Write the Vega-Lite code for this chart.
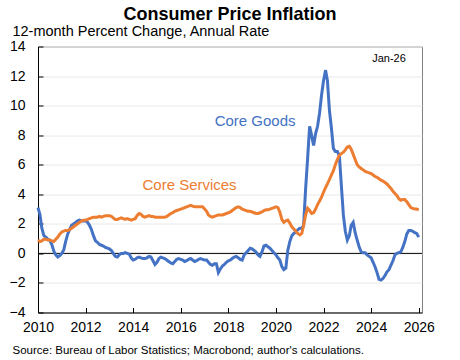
{
  "$schema": "https://vega.github.io/schema/vega-lite/v6.json",
  "width": 384,
  "height": 266,
  "autosize": "none",
  "padding": {"left": 38, "top": 46.5, "right": 38, "bottom": 47.3},
  "background": "white",
  "config": {
    "font": "Liberation Sans",
    "view": {"stroke": "#808080", "strokeWidth": 1}
  },
  "title": {
    "text": "Consumer Price Inflation",
    "fontSize": 18,
    "fontWeight": "bold",
    "color": "#000000",
    "anchor": "middle",
    "frame": "group",
    "offset": 0
  },
  "encoding": {
    "y": {
      "field": "value",
      "type": "quantitative",
      "scale": {"domain": [-4, 14], "nice": false, "zero": false},
      "axis": {
        "title": "12-month Percent Change, Annual Rate",
        "titleAngle": 0,
        "titleAlign": "left",
        "titleAnchor": "end",
        "titleBaseline": "alphabetic",
        "titleX": -26,
        "titleY": -10.5,
        "titleFontSize": 14.5,
        "titleFontWeight": "normal",
        "titleColor": "#000000",
        "values": [-4, -2, 0, 2, 4, 6, 8, 10, 12, 14],
        "labelFontSize": 14,
        "labelColor": "#000000",
        "labelOverlap": false,
        "labelFlush": false,
        "tickSize": -5,
        "labelPadding": 18,
        "tickColor": "#000000",
        "domainColor": "#000000",
        "grid": true,
        "gridColor": "#e8e8e8"
      }
    }
  },
  "layer": [
    {
      "data": {"values": [{"value": 0}]},
      "mark": {"type": "rule", "color": "#000000", "strokeWidth": 1},
      "encoding": {}
    },
    {
      "data": {
        "values": [
          {"date": "2010-01-01", "g": 3.1, "s": 0.9},
          {"date": "2010-02-01", "g": 2.6, "s": 0.8},
          {"date": "2010-03-01", "g": 1.7, "s": 0.85},
          {"date": "2010-04-01", "g": 1.2, "s": 0.95},
          {"date": "2010-05-01", "g": 1.1, "s": 0.95},
          {"date": "2010-06-01", "g": 0.95, "s": 0.9},
          {"date": "2010-07-01", "g": 0.9, "s": 0.9},
          {"date": "2010-08-01", "g": 0.6, "s": 0.85},
          {"date": "2010-09-01", "g": 0.15, "s": 0.8},
          {"date": "2010-10-01", "g": -0.1, "s": 0.95},
          {"date": "2010-11-01", "g": -0.25, "s": 1.1},
          {"date": "2010-12-01", "g": -0.15, "s": 1.3},
          {"date": "2011-01-01", "g": 0.0, "s": 1.45},
          {"date": "2011-02-01", "g": 0.25, "s": 1.5},
          {"date": "2011-03-01", "g": 0.8, "s": 1.55},
          {"date": "2011-04-01", "g": 1.3, "s": 1.55},
          {"date": "2011-05-01", "g": 1.6, "s": 1.6},
          {"date": "2011-06-01", "g": 1.9, "s": 1.7},
          {"date": "2011-07-01", "g": 2.0, "s": 1.8},
          {"date": "2011-08-01", "g": 2.1, "s": 1.9},
          {"date": "2011-09-01", "g": 2.2, "s": 2.0},
          {"date": "2011-10-01", "g": 2.25, "s": 2.1},
          {"date": "2011-11-01", "g": 2.2, "s": 2.2},
          {"date": "2011-12-01", "g": 2.2, "s": 2.25},
          {"date": "2012-01-01", "g": 2.2, "s": 2.25},
          {"date": "2012-02-01", "g": 2.1, "s": 2.3},
          {"date": "2012-03-01", "g": 1.9, "s": 2.35},
          {"date": "2012-04-01", "g": 1.6, "s": 2.4},
          {"date": "2012-05-01", "g": 1.2, "s": 2.45},
          {"date": "2012-06-01", "g": 0.85, "s": 2.45},
          {"date": "2012-07-01", "g": 0.75, "s": 2.45},
          {"date": "2012-08-01", "g": 0.6, "s": 2.5},
          {"date": "2012-09-01", "g": 0.55, "s": 2.45},
          {"date": "2012-10-01", "g": 0.5, "s": 2.5},
          {"date": "2012-11-01", "g": 0.4, "s": 2.55},
          {"date": "2012-12-01", "g": 0.35, "s": 2.55},
          {"date": "2013-01-01", "g": 0.3, "s": 2.55},
          {"date": "2013-02-01", "g": 0.2, "s": 2.5},
          {"date": "2013-03-01", "g": 0.0, "s": 2.4},
          {"date": "2013-04-01", "g": -0.2, "s": 2.3},
          {"date": "2013-05-01", "g": -0.25, "s": 2.3},
          {"date": "2013-06-01", "g": -0.1, "s": 2.35},
          {"date": "2013-07-01", "g": 0.0, "s": 2.4},
          {"date": "2013-08-01", "g": 0.0, "s": 2.35},
          {"date": "2013-09-01", "g": 0.05, "s": 2.3},
          {"date": "2013-10-01", "g": 0.0, "s": 2.35},
          {"date": "2013-11-01", "g": -0.05, "s": 2.3},
          {"date": "2013-12-01", "g": -0.3, "s": 2.25},
          {"date": "2014-01-01", "g": -0.45, "s": 2.3},
          {"date": "2014-02-01", "g": -0.4, "s": 2.35},
          {"date": "2014-03-01", "g": -0.3, "s": 2.55},
          {"date": "2014-04-01", "g": -0.25, "s": 2.7},
          {"date": "2014-05-01", "g": -0.3, "s": 2.65},
          {"date": "2014-06-01", "g": -0.35, "s": 2.5},
          {"date": "2014-07-01", "g": -0.35, "s": 2.45},
          {"date": "2014-08-01", "g": -0.3, "s": 2.5},
          {"date": "2014-09-01", "g": -0.2, "s": 2.55},
          {"date": "2014-10-01", "g": -0.25, "s": 2.5},
          {"date": "2014-11-01", "g": -0.5, "s": 2.5},
          {"date": "2014-12-01", "g": -0.75, "s": 2.45},
          {"date": "2015-01-01", "g": -0.6, "s": 2.45},
          {"date": "2015-02-01", "g": -0.35, "s": 2.45},
          {"date": "2015-03-01", "g": -0.25, "s": 2.45},
          {"date": "2015-04-01", "g": -0.3, "s": 2.45},
          {"date": "2015-05-01", "g": -0.35, "s": 2.45},
          {"date": "2015-06-01", "g": -0.45, "s": 2.5},
          {"date": "2015-07-01", "g": -0.55, "s": 2.6},
          {"date": "2015-08-01", "g": -0.65, "s": 2.7},
          {"date": "2015-09-01", "g": -0.7, "s": 2.75},
          {"date": "2015-10-01", "g": -0.55, "s": 2.85},
          {"date": "2015-11-01", "g": -0.4, "s": 2.9},
          {"date": "2015-12-01", "g": -0.35, "s": 2.95},
          {"date": "2016-01-01", "g": -0.4, "s": 3.0},
          {"date": "2016-02-01", "g": -0.45, "s": 3.05},
          {"date": "2016-03-01", "g": -0.55, "s": 3.1},
          {"date": "2016-04-01", "g": -0.5, "s": 3.15},
          {"date": "2016-05-01", "g": -0.4, "s": 3.2},
          {"date": "2016-06-01", "g": -0.35, "s": 3.25},
          {"date": "2016-07-01", "g": -0.45, "s": 3.2},
          {"date": "2016-08-01", "g": -0.55, "s": 3.15},
          {"date": "2016-09-01", "g": -0.5, "s": 3.15},
          {"date": "2016-10-01", "g": -0.4, "s": 3.15},
          {"date": "2016-11-01", "g": -0.35, "s": 3.15},
          {"date": "2016-12-01", "g": -0.4, "s": 3.15},
          {"date": "2017-01-01", "g": -0.45, "s": 3.0},
          {"date": "2017-02-01", "g": -0.45, "s": 2.85},
          {"date": "2017-03-01", "g": -0.6, "s": 2.6},
          {"date": "2017-04-01", "g": -0.75, "s": 2.5},
          {"date": "2017-05-01", "g": -0.8, "s": 2.45},
          {"date": "2017-06-01", "g": -0.7, "s": 2.5},
          {"date": "2017-07-01", "g": -0.7, "s": 2.55},
          {"date": "2017-08-01", "g": -1.3, "s": 2.6},
          {"date": "2017-09-01", "g": -1.05, "s": 2.6},
          {"date": "2017-10-01", "g": -0.85, "s": 2.6},
          {"date": "2017-11-01", "g": -0.75, "s": 2.65},
          {"date": "2017-12-01", "g": -0.6, "s": 2.7},
          {"date": "2018-01-01", "g": -0.5, "s": 2.75},
          {"date": "2018-02-01", "g": -0.45, "s": 2.8},
          {"date": "2018-03-01", "g": -0.35, "s": 2.9},
          {"date": "2018-04-01", "g": -0.25, "s": 3.0},
          {"date": "2018-05-01", "g": -0.2, "s": 3.1},
          {"date": "2018-06-01", "g": -0.3, "s": 3.15},
          {"date": "2018-07-01", "g": -0.4, "s": 3.1},
          {"date": "2018-08-01", "g": -0.45, "s": 3.0},
          {"date": "2018-09-01", "g": -0.1, "s": 2.95},
          {"date": "2018-10-01", "g": 0.05, "s": 2.9},
          {"date": "2018-11-01", "g": 0.2, "s": 2.85},
          {"date": "2018-12-01", "g": 0.35, "s": 2.85},
          {"date": "2019-01-01", "g": 0.3, "s": 2.8},
          {"date": "2019-02-01", "g": 0.2, "s": 2.75},
          {"date": "2019-03-01", "g": 0.1, "s": 2.7},
          {"date": "2019-04-01", "g": -0.1, "s": 2.7},
          {"date": "2019-05-01", "g": -0.2, "s": 2.75},
          {"date": "2019-06-01", "g": 0.1, "s": 2.8},
          {"date": "2019-07-01", "g": 0.5, "s": 2.9},
          {"date": "2019-08-01", "g": 0.55, "s": 2.95},
          {"date": "2019-09-01", "g": 0.45, "s": 2.95},
          {"date": "2019-10-01", "g": 0.35, "s": 3.0},
          {"date": "2019-11-01", "g": 0.2, "s": 3.05},
          {"date": "2019-12-01", "g": 0.05, "s": 3.1},
          {"date": "2020-01-01", "g": -0.1, "s": 3.15},
          {"date": "2020-02-01", "g": -0.3, "s": 3.1},
          {"date": "2020-03-01", "g": -0.45, "s": 2.8},
          {"date": "2020-04-01", "g": -0.9, "s": 2.3},
          {"date": "2020-05-01", "g": -1.1, "s": 2.1},
          {"date": "2020-06-01", "g": -1.0, "s": 2.2},
          {"date": "2020-07-01", "g": 0.2, "s": 2.25},
          {"date": "2020-08-01", "g": 0.8, "s": 2.05},
          {"date": "2020-09-01", "g": 1.2, "s": 1.8},
          {"date": "2020-10-01", "g": 1.35, "s": 1.65},
          {"date": "2020-11-01", "g": 1.45, "s": 1.5},
          {"date": "2020-12-01", "g": 1.6, "s": 1.35},
          {"date": "2021-01-01", "g": 1.7, "s": 1.25},
          {"date": "2021-02-01", "g": 1.7, "s": 1.35},
          {"date": "2021-03-01", "g": 1.9, "s": 1.9},
          {"date": "2021-04-01", "g": 4.4, "s": 2.6},
          {"date": "2021-05-01", "g": 6.4, "s": 3.05},
          {"date": "2021-06-01", "g": 8.6, "s": 2.9},
          {"date": "2021-07-01", "g": 8.0, "s": 2.7},
          {"date": "2021-08-01", "g": 7.3, "s": 2.75},
          {"date": "2021-09-01", "g": 8.1, "s": 3.0},
          {"date": "2021-10-01", "g": 8.6, "s": 3.3},
          {"date": "2021-11-01", "g": 9.5, "s": 3.55},
          {"date": "2021-12-01", "g": 10.7, "s": 3.8},
          {"date": "2022-01-01", "g": 11.7, "s": 4.15},
          {"date": "2022-02-01", "g": 12.4, "s": 4.45},
          {"date": "2022-03-01", "g": 11.7, "s": 4.7},
          {"date": "2022-04-01", "g": 9.7, "s": 5.0},
          {"date": "2022-05-01", "g": 8.5, "s": 5.3},
          {"date": "2022-06-01", "g": 7.1, "s": 5.6},
          {"date": "2022-07-01", "g": 6.9, "s": 6.0},
          {"date": "2022-08-01", "g": 6.9, "s": 6.35},
          {"date": "2022-09-01", "g": 6.6, "s": 6.65},
          {"date": "2022-10-01", "g": 4.6, "s": 6.75},
          {"date": "2022-11-01", "g": 2.6, "s": 6.85},
          {"date": "2022-12-01", "g": 1.5, "s": 7.0},
          {"date": "2023-01-01", "g": 0.9, "s": 7.2},
          {"date": "2023-02-01", "g": 1.2, "s": 7.25},
          {"date": "2023-03-01", "g": 1.9, "s": 7.05},
          {"date": "2023-04-01", "g": 2.1, "s": 6.7},
          {"date": "2023-05-01", "g": 1.4, "s": 6.35},
          {"date": "2023-06-01", "g": 0.9, "s": 6.0},
          {"date": "2023-07-01", "g": 0.45, "s": 5.85},
          {"date": "2023-08-01", "g": 0.1, "s": 5.75},
          {"date": "2023-09-01", "g": 0.05, "s": 5.65},
          {"date": "2023-10-01", "g": 0.05, "s": 5.55},
          {"date": "2023-11-01", "g": -0.1, "s": 5.5},
          {"date": "2023-12-01", "g": -0.2, "s": 5.45},
          {"date": "2024-01-01", "g": -0.3, "s": 5.4},
          {"date": "2024-02-01", "g": -0.6, "s": 5.3},
          {"date": "2024-03-01", "g": -0.9, "s": 5.2},
          {"date": "2024-04-01", "g": -1.3, "s": 5.15},
          {"date": "2024-05-01", "g": -1.75, "s": 5.05},
          {"date": "2024-06-01", "g": -1.8, "s": 4.95},
          {"date": "2024-07-01", "g": -1.7, "s": 4.9},
          {"date": "2024-08-01", "g": -1.5, "s": 4.8},
          {"date": "2024-09-01", "g": -1.25, "s": 4.7},
          {"date": "2024-10-01", "g": -1.1, "s": 4.55},
          {"date": "2024-11-01", "g": -0.8, "s": 4.4},
          {"date": "2024-12-01", "g": -0.5, "s": 4.2},
          {"date": "2025-01-01", "g": -0.1, "s": 4.05},
          {"date": "2025-02-01", "g": 0.0, "s": 3.9},
          {"date": "2025-03-01", "g": 0.05, "s": 3.7},
          {"date": "2025-04-01", "g": 0.1, "s": 3.6},
          {"date": "2025-05-01", "g": 0.4, "s": 3.65},
          {"date": "2025-06-01", "g": 0.8, "s": 3.65},
          {"date": "2025-07-01", "g": 1.3, "s": 3.5},
          {"date": "2025-08-01", "g": 1.55, "s": 3.3},
          {"date": "2025-09-01", "g": 1.55, "s": 3.1},
          {"date": "2025-10-01", "g": 1.5, "s": 3.05},
          {"date": "2025-11-01", "g": 1.4, "s": 3.0},
          {"date": "2025-12-01", "g": 1.35, "s": 3.0},
          {"date": "2026-01-01", "g": 1.1, "s": 2.95}
        ]
      },
      "transform": [{"fold": ["g", "s"], "as": ["series", "value"]}],
      "mark": {"type": "line", "strokeWidth": 3},
      "encoding": {
        "x": {
          "field": "date",
          "type": "temporal",
          "scale": {
            "type": "utc",
            "domain": [
              {"year": 2010, "month": 1, "date": 1, "utc": true},
              {"year": 2026, "month": 2, "date": 20, "utc": true}
            ]
          },
          "axis": {
            "title": "Source: Bureau of Labor Statistics; Macrobond; author's calculations.",
            "titleFontSize": 11.5,
            "titleFontWeight": "normal",
            "titleColor": "#000000",
            "titleAnchor": "start",
            "titleAlign": "left",
            "titleBaseline": "alphabetic",
            "titleX": -26,
            "titleY": 41,
            "format": "%Y",
            "tickCount": {"interval": "year", "step": 2},
            "labelFontSize": 14,
            "labelColor": "#000000",
            "labelFlush": false,
            "labelOverlap": false,
            "tickSize": -5,
            "labelPadding": 13,
            "tickColor": "#000000",
            "domainColor": "#000000",
            "grid": false
          }
        },
        "color": {
          "field": "series",
          "type": "nominal",
          "scale": {"domain": ["g", "s"], "range": ["#4472C4", "#ED7D31"]},
          "legend": null
        }
      }
    },
    {
      "data": {"values": [{"date": "2019-02-15", "value": 8.96, "label": "Core Goods"}]},
      "mark": {"type": "text", "fontSize": 15, "color": "#4472C4", "align": "center", "baseline": "middle"},
      "encoding": {
        "x": {"field": "date", "type": "temporal"},
        "text": {"field": "label"}
      }
    },
    {
      "data": {"values": [{"date": "2016-05-15", "value": 4.61, "label": "Core Services"}]},
      "mark": {"type": "text", "fontSize": 15, "color": "#ED7D31", "align": "center", "baseline": "middle"},
      "encoding": {
        "x": {"field": "date", "type": "temporal"},
        "text": {"field": "label"}
      }
    },
    {
      "data": {"values": [{"date": "2024-10-01", "value": 13.18, "label": "Jan-26"}]},
      "mark": {"type": "text", "fontSize": 11, "color": "#000000", "align": "center", "baseline": "middle"},
      "encoding": {
        "x": {"field": "date", "type": "temporal"},
        "text": {"field": "label"}
      }
    }
  ]
}
